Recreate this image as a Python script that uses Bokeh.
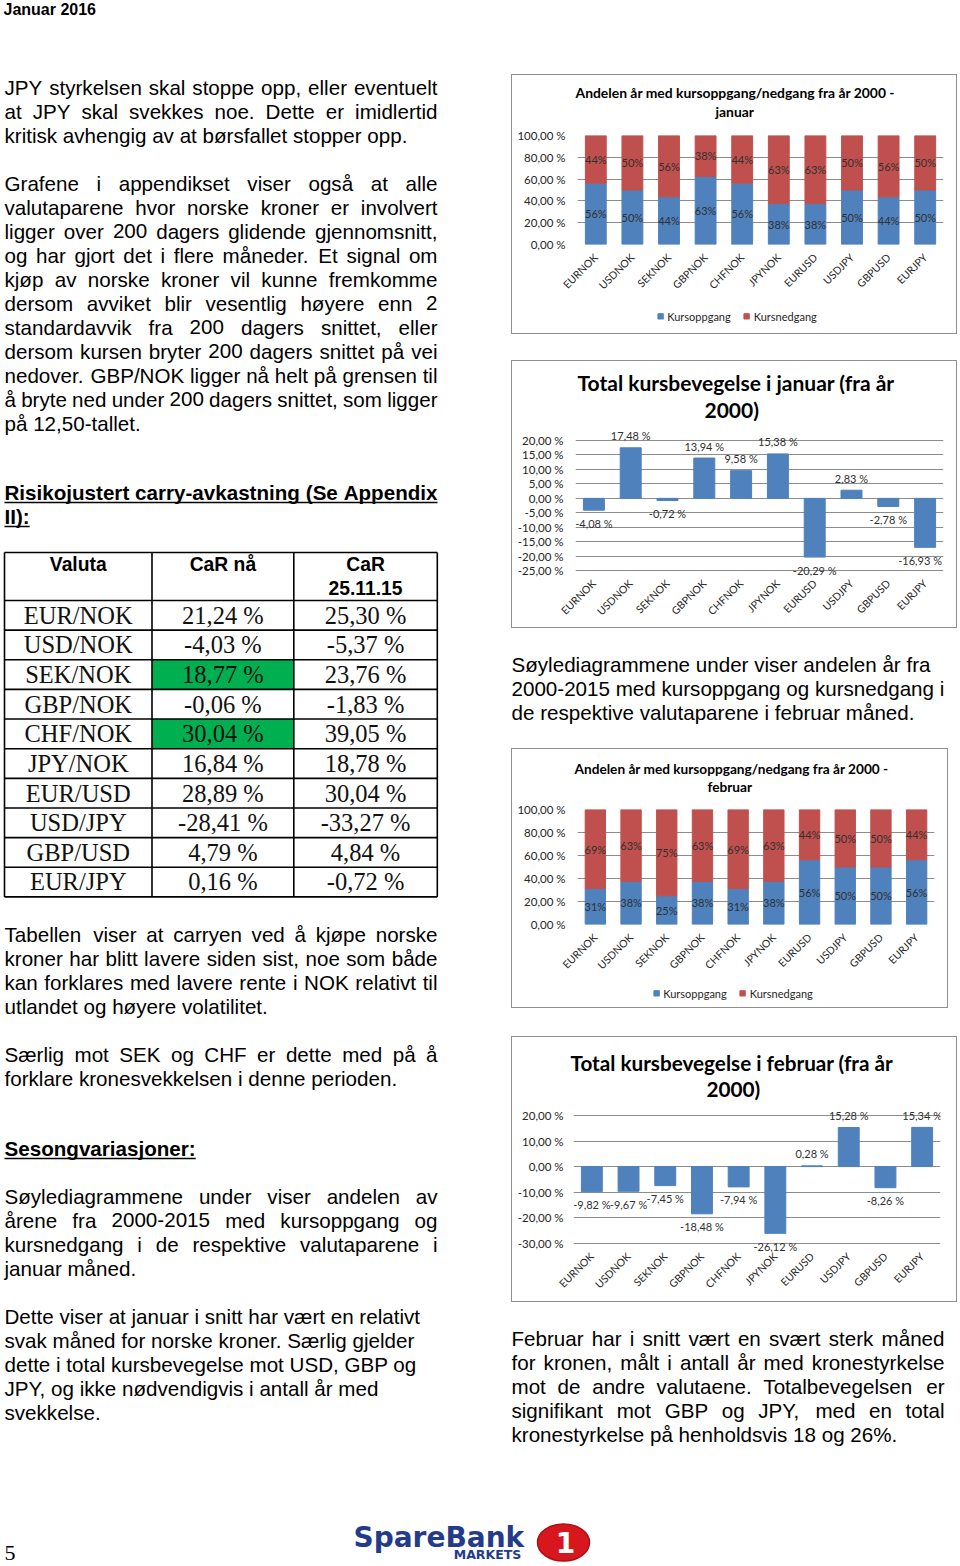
import math
from bokeh.plotting import figure
from bokeh.models import (Range1d, ColumnDataSource, Title, Legend, LegendItem,
                          FixedTicker, Spacer)
from bokeh.layouts import row, column
from bokeh.core.properties import value
from bokeh.embed import file_html
from bokeh.resources import INLINE

# ---------------- data ----------------
pairs = ["EURNOK", "USDNOK", "SEKNOK", "GBPNOK", "CHFNOK",
         "JPYNOK", "EURUSD", "USDJPY", "GBPUSD", "EURJPY"]
jan_up = [56.25, 50.0, 43.75, 62.5, 56.25, 37.5, 37.5, 50.0, 43.75, 50.0]
jan_down = [43.75, 50.0, 56.25, 37.5, 43.75, 62.5, 62.5, 50.0, 56.25, 50.0]
jan_total = [-4.08, 17.48, -0.72, 13.94, 9.58, 15.38, -20.29, 2.83, -2.78, -16.93]
feb_up = [31.25, 37.5, 25.0, 37.5, 31.25, 37.5, 56.25, 50.0, 50.0, 56.25]
feb_down = [68.75, 62.5, 75.0, 62.5, 68.75, 62.5, 43.75, 50.0, 50.0, 43.75]
feb_total = [-9.82, -9.67, -7.45, -18.48, -7.94, -26.12, 0.28, 15.28, -8.26, 15.34]

share_ticks = [0, 20, 40, 60, 80, 100]
share_tick_labels = ["0,00 %", "20,00 %", "40,00 %", "60,00 %", "80,00 %", "100,00 %"]
jan_total_ticks = [-25, -20, -15, -10, -5, 0, 5, 10, 15, 20]
jan_total_tick_labels = ["-25,00 %", "-20,00 %", "-15,00 %", "-10,00 %", "-5,00 %",
                         "0,00 %", "5,00 %", "10,00 %", "15,00 %", "20,00 %"]
feb_total_ticks = [-30, -20, -10, 0, 10, 20]
feb_total_tick_labels = ["-30,00 %", "-20,00 %", "-10,00 %", "0,00 %", "10,00 %", "20,00 %"]

series_names = ["Kursoppgang", "Kursnedgang"]

valuta = ["EUR/NOK", "USD/NOK", "SEK/NOK", "GBP/NOK", "CHF/NOK",
          "JPY/NOK", "EUR/USD", "USD/JPY", "GBP/USD", "EUR/JPY"]
car_naa = ["21,24 %", "-4,03 %", "18,77 %", "-0,06 %", "30,04 %",
           "16,84 %", "28,89 %", "-28,41 %", "4,79 %", "0,16 %"]
car_2511 = ["25,30 %", "-5,37 %", "23,76 %", "-1,83 %", "39,05 %",
            "18,78 %", "30,04 %", "-33,27 %", "4,84 %", "-0,72 %"]
car_green = [False, False, True, False, True, False, False, False, False, False]

# ---------------- styles ----------------
BLUE = "#4F81BD"
RED = "#C0504D"
GRID = "#8c8c8c"
BOX = {"box-shadow": "inset 0 0 0 1px #8f8f8f"}
CF = "Lato"
SANS = "Liberation Sans"
SERIF = "Liberation Serif"
FS = 20.6
# rendered text sits lower than the requested alphabetic baseline by about this share of the size
BASE_FIX = {SANS: 0.35, SERIF: 0.34, "DejaVu Sans": 0.35}

AR = {' ': 278, '%': 889, '(': 333, ')': 333, ',': 278, '-': 333, '.': 278, '/': 278, ':': 278,
      'A': 667, 'B': 667, 'C': 722, 'D': 722, 'E': 667, 'F': 611, 'G': 778, 'H': 722, 'I': 278,
      'J': 500, 'K': 667, 'L': 556, 'M': 833, 'N': 722, 'O': 778, 'P': 667, 'Q': 778, 'R': 722,
      'S': 667, 'T': 611, 'U': 722, 'V': 667, 'W': 944, 'X': 667, 'Y': 667, 'Z': 611,
      'a': 556, 'b': 556, 'c': 500, 'd': 556, 'e': 556, 'f': 278, 'g': 556, 'h': 556, 'i': 222,
      'j': 222, 'k': 500, 'l': 222, 'm': 833, 'n': 556, 'o': 556, 'p': 556, 'q': 556, 'r': 333,
      's': 500, 't': 278, 'u': 556, 'v': 500, 'w': 722, 'x': 500, 'y': 500, 'z': 500,
      'æ': 889, 'ø': 611, 'å': 556, 'Æ': 1000, 'Ø': 778, 'Å': 667}
ARB = {' ': 278, '%': 889, '(': 333, ')': 333, ',': 278, '-': 333, '.': 278, '/': 278, ':': 333,
       'A': 722, 'B': 722, 'C': 722, 'D': 722, 'E': 667, 'F': 611, 'G': 778, 'H': 722, 'I': 278,
       'J': 556, 'K': 722, 'L': 611, 'M': 833, 'N': 722, 'O': 778, 'P': 667, 'Q': 778, 'R': 722,
       'S': 667, 'T': 611, 'U': 722, 'V': 667, 'W': 944, 'X': 667, 'Y': 667, 'Z': 611,
       'a': 556, 'b': 611, 'c': 556, 'd': 611, 'e': 556, 'f': 333, 'g': 611, 'h': 611, 'i': 278,
       'j': 278, 'k': 556, 'l': 278, 'm': 889, 'n': 611, 'o': 611, 'p': 611, 'q': 611, 'r': 389,
       's': 556, 't': 333, 'u': 611, 'v': 556, 'w': 778, 'x': 556, 'y': 556, 'z': 500,
       'æ': 889, 'ø': 611, 'å': 556}


def tw(s, size, bold=False):
    tab = ARB if bold else AR
    return sum(tab.get(c, 556) for c in s) * size / 1000.0


def new_bag():
    return {"x": [], "y": [], "t": []}


def put_line(b, text, x0, x1, y, size, bold=False, justify=False):
    words = text.split(" ")
    if justify and len(words) > 1:
        ws = [tw(w, size, bold) for w in words]
        gap = (x1 - x0 - sum(ws)) / (len(words) - 1)
        x = x0
        for w, wd in zip(words, ws):
            b["x"].append(x); b["y"].append(y); b["t"].append(w)
            x += wd + gap
    else:
        b["x"].append(x0); b["y"].append(y); b["t"].append(text)


def put_para(b, lines, x0, x1, y0, size=FS, bold=False, justify=True, lead=24):
    for i, ln in enumerate(lines):
        put_line(b, ln, x0, x1, y0 + i * lead, size, bold,
                 justify and i < len(lines) - 1)


def draw_bag(p, b, font, size, style="normal", color="#000000", align="left"):
    fix = BASE_FIX.get(font, 0.35) * size
    data = dict(x=list(b["x"]), y=[y - fix for y in b["y"]], t=list(b["t"]))
    p.text(x="x", y="y", text="t", source=ColumnDataSource(data), text_font=value(font),
           text_font_size=value(f"{size}px"), text_font_style=style, text_color=color,
           text_align=align, text_baseline="alphabetic")


def page_fig(x0, x1, y0, y1):
    p = figure(width=int(x1 - x0), height=int(y1 - y0), x_range=Range1d(x0, x1),
               y_range=Range1d(y1, y0), output_backend="svg", toolbar_location=None,
               x_axis_type=None, y_axis_type=None, min_border=0, title=None)
    p.outline_line_color = None
    p.background_fill_color = None
    p.border_fill_color = None
    return p


# ---------------- charts ----------------
def base_chart(w, h, borders, yr, ticks, labels, titles, tsize, spacer, boxed,
               y_stand, x_tick_out, x_stand):
    l, r, t, btm = borders
    p = figure(x_range=pairs, y_range=Range1d(*yr), width=w, height=h,
               output_backend="svg", toolbar_location=None, title=None,
               min_border_left=l, min_border_right=r, min_border_top=t, min_border_bottom=btm)
    p.outline_line_color = None
    p.background_fill_color = None
    p.border_fill_color = None
    p.xgrid.grid_line_color = None
    p.ygrid.grid_line_color = GRID
    p.ygrid.grid_line_width = 1
    p.yaxis.ticker = FixedTicker(ticks=ticks)
    p.yaxis.major_label_overrides = {tk: lb for tk, lb in zip(ticks, labels)}
    for ax in (p.xaxis, p.yaxis):
        ax.major_tick_line_color = None
        ax.minor_tick_line_color = None
        ax.axis_line_color = None
        ax.major_label_text_font = CF
        ax.major_label_text_color = "#262626"
    p.yaxis.major_tick_out = 0
    p.yaxis.major_tick_in = 0
    p.xaxis.major_tick_out = x_tick_out
    p.xaxis.major_tick_in = 0
    p.yaxis.major_label_text_font_size = "11.5px"
    p.xaxis.major_label_text_font_size = "10.5px"
    p.xaxis.major_label_orientation = math.pi / 4
    p.yaxis.major_label_standoff = y_stand
    p.xaxis.major_label_standoff = x_stand
    # above panels, from the frame outward: blank spacer, second title line, first line
    p.add_layout(Title(text=".", text_font_size="4px", text_color="#ffffff",
                       standoff=spacer), "above")
    for txt, off in reversed(titles):
        p.add_layout(Title(text=txt, align="left", offset=off, text_font=CF,
                           text_font_size=f"{tsize}px", text_font_style="bold",
                           text_color="#000000", standoff=0), "above")
    if boxed:
        p.styles = BOX
    return p


def pct(v):
    return f"{int(v + 0.5)}%"


def fmt(v):
    return f"{v:.2f}".replace(".", ",") + " %"


def legend_fig(w, h, shift):
    lf = figure(width=w, height=h, x_range=Range1d(0, 1), y_range=Range1d(0, 1),
                output_backend="svg", toolbar_location=None, x_axis_type=None,
                y_axis_type=None, min_border=0, min_border_left=shift, title=None)
    lf.outline_line_color = None
    lf.background_fill_color = None
    lf.border_fill_color = None
    # legend keys only: their single bar lies outside the visible range
    r1 = lf.vbar(x=[-5], top=[-5], bottom=[-6], width=1, fill_color=BLUE, line_color=BLUE)
    r2 = lf.vbar(x=[-5], top=[-5], bottom=[-6], width=1, fill_color=RED, line_color=RED)
    leg = Legend(items=[LegendItem(label=series_names[0], renderers=[r1]),
                        LegendItem(label=series_names[1], renderers=[r2])],
                 orientation="horizontal", location="center", border_line_color=None,
                 background_fill_alpha=0, padding=0, margin=0, spacing=12,
                 glyph_width=7, glyph_height=7, label_standoff=4, label_height=12,
                 label_text_font=CF, label_text_font_size="11px", label_text_color="#262626")
    lf.add_layout(leg)
    return lf


def share_chart(w, h, leg_h, leg_shift, borders, up, down, titles, tsize, spacer):
    p = base_chart(w, h - leg_h, borders, (0, 100), share_ticks, share_tick_labels,
                   titles, tsize, spacer, False, 12, 6, 5)
    src = ColumnDataSource(dict(pairs=pairs, up=up, down=down))
    p.vbar_stack(["up", "down"], x="pairs", width=0.57, color=[BLUE, RED], source=src)
    lab = ColumnDataSource(dict(
        x=pairs + pairs,
        y=[u / 2 for u in up] + [u + d / 2 for u, d in zip(up, down)],
        t=[pct(u) for u in up] + [pct(d) for d in down]))
    p.text(x="x", y="y", text="t", source=lab, text_align="center", text_baseline="middle",
           text_font=value(CF), text_font_size=value("11px"), text_color="#303030")
    box = column(row(p), row(legend_fig(w, leg_h, leg_shift)))
    box.styles = BOX
    return box


def total_chart(w, h, borders, yr, ticks, labels, vals, titles, tsize, spacer, y_stand,
                x_stand, last_shift):
    p = base_chart(w, h, borders, yr, ticks, labels, titles, tsize, spacer, True,
                   y_stand, 0, x_stand)
    n = len(vals)
    src = ColumnDataSource(dict(pairs=pairs, v=vals, t=[fmt(v) for v in vals],
                                off=[-12 if v >= 0 else 13 for v in vals],
                                xo=[0] * (n - 1) + [last_shift]))
    p.vbar(x="pairs", top="v", bottom=0, width=0.57, color=BLUE, source=src)
    p.text(x="pairs", y="v", text="t", x_offset="xo", y_offset="off", source=src,
           text_align="center", text_baseline="middle", text_font=value(CF),
           text_font_size=value("11px"), text_color="#303030")
    return p


chart1 = share_chart(446, 260, 36, 5, (66, 14, 61, 49), jan_up, jan_down,
                     [("Andelen år med kursoppgang/nedgang fra år 2000 -", -2), ("januar", 138)],
                     13.9, 10.8)
chart3 = share_chart(437, 260, 30, 6, (66, 14, 61, 53), feb_up, feb_down,
                     [("Andelen år med kursoppgang/nedgang fra år 2000 -", -3), ("februar", 130)],
                     13.66, 10.3)
# the value axes reach a little past the outer gridlines so the value labels stay visible
chart2 = total_chart(446, 268, (64, 14, 67, 52), (-27, 24.5), jan_total_ticks,
                     jan_total_tick_labels, jan_total,
                     [("Total kursbevegelse i januar (fra år", 2), ("2000)", 129)], 21, 0.5,
                     12, 5, -5)
chart4 = total_chart(446, 266, (62, 17, 70, 49), (-34, 23.5), feb_total_ticks,
                     feb_total_tick_labels, feb_total,
                     [("Total kursbevegelse i februar (fra år", -3), ("2000)", 133)], 20.7, 0.5,
                     10, 1, 0)

# ---------------- left page column ----------------
left = page_fig(0, 511, 0, 1500)
reg = new_bag()
bold = new_bag()
LX0, LX1 = 4, 437

put_para(reg, ["JPY styrkelsen skal stoppe opp, eller eventuelt",
               "at JPY skal svekkes noe. Dette er imidlertid",
               "kritisk avhengig av at børsfallet stopper opp."], LX0, LX1, 94)
put_para(reg, ["Grafene i appendikset viser også at alle",
               "valutaparene hvor norske kroner er involvert",
               "ligger over 200 dagers glidende gjennomsnitt,",
               "og har gjort det i flere måneder. Et signal om",
               "kjøp av norske kroner vil kunne fremkomme",
               "dersom avviket blir vesentlig høyere enn 2",
               "standardavvik fra 200 dagers snittet, eller",
               "dersom kursen bryter 200 dagers snittet på vei",
               "nedover. GBP/NOK ligger nå helt på grensen til",
               "å bryte ned under 200 dagers snittet, som ligger",
               "på 12,50-tallet."], LX0, LX1, 190)
put_para(reg, ["Tabellen viser at carryen ved å kjøpe norske",
               "kroner har blitt lavere siden sist, noe som både",
               "kan forklares med lavere rente i NOK relativt til",
               "utlandet og høyere volatilitet."], LX0, LX1, 941)
put_para(reg, ["Særlig mot SEK og CHF er dette med på å",
               "forklare kronesvekkelsen i denne perioden."], LX0, LX1, 1061)
put_para(reg, ["Søylediagrammene under viser andelen av",
               "årene fra 2000-2015 med kursoppgang og",
               "kursnedgang i de respektive valutaparene i",
               "januar måned."], LX0, LX1, 1203)
put_para(reg, ["Dette viser at januar i snitt har vært en relativt",
               "svak måned for norske kroner. Særlig gjelder",
               "dette i total kursbevegelse mot USD, GBP og",
               "JPY, og ikke nødvendigvis i antall år med",
               "svekkelse."], LX0, LX1, 1323, justify=False)

head1 = ["Risikojustert carry-avkastning (Se Appendix", "II):"]
put_para(bold, head1, LX0, LX1, 499, bold=True)
put_para(bold, ["Sesongvariasjoner:"], LX0, LX1, 1155, bold=True)
ul = dict(x0=[LX0, LX0, LX0],
          x1=[LX1, LX0 + tw("II):", FS, True), LX0 + tw("Sesongvariasjoner:", FS, True)],
          y=[502, 526, 1158])
left.segment(x0="x0", y0="y", x1="x1", y1="y", source=ColumnDataSource(ul),
             line_color="#000000", line_width=1.5)

draw_bag(left, reg, SANS, FS)
draw_bag(left, bold, SANS, FS, style="bold")

hdr = new_bag()
put_line(hdr, "Januar 2016", 3, 0, 14.5, 16, True)
draw_bag(left, hdr, SANS, 16, style="bold")

# table
col_x = [4, 151.5, 293.3, 436.8]
row_h = 29.64
row_y = [552, 600] + [600 + row_h * (i + 1) for i in range(len(valuta))]
gq = dict(l=[], r=[], t=[], b=[])
for i, g in enumerate(car_green):
    if g:
        gq["l"].append(col_x[1]); gq["r"].append(col_x[2])
        gq["t"].append(row_y[i + 1]); gq["b"].append(row_y[i + 2])
left.quad(left="l", right="r", top="t", bottom="b", source=ColumnDataSource(gq),
          fill_color="#00B050", line_color=None)
segs = dict(x0=[], x1=[], y0=[], y1=[])
for y in row_y:
    segs["x0"].append(col_x[0]); segs["x1"].append(col_x[-1]); segs["y0"].append(y); segs["y1"].append(y)
for x in col_x:
    segs["x0"].append(x); segs["x1"].append(x); segs["y0"].append(row_y[0]); segs["y1"].append(row_y[-1])
left.segment(x0="x0", y0="y0", x1="x1", y1="y1", source=ColumnDataSource(segs),
             line_color="#000000", line_width=1.6)
centers = [(col_x[i] + col_x[i + 1]) / 2 for i in range(3)]
th = dict(x=[centers[0], centers[1], centers[2], centers[2]],
          y=[570.5, 570.5, 570.5, 594.5], t=["Valuta", "CaR nå", "CaR", "25.11.15"])
draw_bag(left, th, SANS, 19.3, style="bold", align="center")
tb = dict(x=[], y=[], t=[])
for i in range(len(valuta)):
    base = row_y[i + 1] + 23
    for c, txt in zip(centers, (valuta[i], car_naa[i], car_2511[i])):
        tb["x"].append(c); tb["y"].append(base); tb["t"].append(txt)
draw_bag(left, tb, SERIF, 24.5, align="center", color="#111111")

# ---------------- right text blocks ----------------
RX0, RX1 = 511, 944
figG = page_fig(511, 958, 628, 748)
gb = new_bag()
put_para(gb, ["Søylediagrammene under viser andelen år fra",
              "2000-2015 med kursoppgang og kursnedgang i",
              "de respektive valutaparene i februar måned."], RX0, RX1, 671, justify=False)
draw_bag(figG, gb, SANS, FS)

figH = page_fig(511, 958, 1302, 1500)
hb = new_bag()
put_para(hb, ["Februar har i snitt vært en svært sterk måned",
              "for kronen, målt i antall år med kronestyrkelse",
              "mot de andre valutaene. Totalbevegelsen er",
              "signifikant mot GBP og JPY, med en total",
              "kronestyrkelse på henholdsvis 18 og 26%."], RX0, RX1, 1345)
draw_bag(figH, hb, SANS, FS)

# ---------------- bottom (logo + page number) ----------------
bottom = page_fig(0, 958, 1500, 1566)
bottom.ellipse(x=[563], y=[1542], width=[52], height=[37], fill_color="#d8161d",
               line_color="#a80f14", line_width=1.5)
draw_bag(bottom, dict(x=[565], y=[1552], t=["1"]), "DejaVu Sans", 28, style="bold",
         color="#ffffff", align="center")
draw_bag(bottom, dict(x=[353], y=[1547], t=["SpareBank"]), "DejaVu Sans", 28, style="bold",
         color="#243b8c")
draw_bag(bottom, dict(x=[487], y=[1558], t=["MARKETS"]), "DejaVu Sans", 12.5, style="bold",
         color="#243b8c", align="center")
draw_bag(bottom, dict(x=[4], y=[1560], t=["5"]), SERIF, 22)

right_col = column(Spacer(width=447, height=74), chart1, Spacer(width=447, height=26),
                   row(chart2), row(figG), chart3, Spacer(width=447, height=28),
                   row(chart4), row(figH))
root = column(row(left, right_col), bottom)

open("out.html", "w").write(file_html(root, INLINE))
